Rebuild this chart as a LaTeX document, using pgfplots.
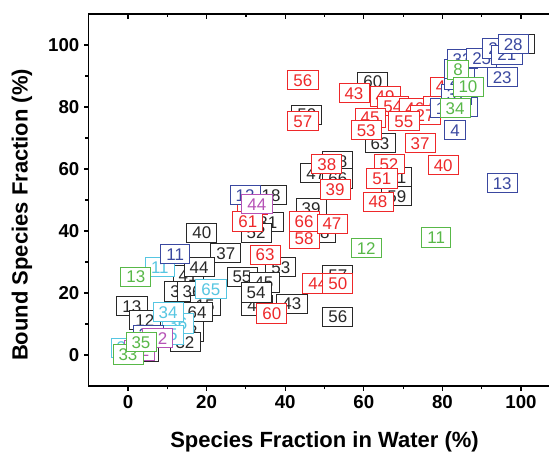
\documentclass[border=0pt]{standalone}
\usepackage{fontspec}
\setmainfont{Liberation Sans}
\usepackage{pgfplots}
\pgfplotsset{compat=1.18}

\definecolor{cblack}{RGB}{40,40,40}
\definecolor{cred}{RGB}{238,40,42}
\definecolor{cblue}{RGB}{58,72,160}
\definecolor{cgreen}{RGB}{88,184,72}
\definecolor{ccyan}{RGB}{86,198,226}
\definecolor{cmag}{RGB}{182,82,182}

\pgfplotsset{
  lbl/.style={draw=none, mark=none, nodes near coords,
    point meta=explicit symbolic,
    nodes near coords style={anchor=center, draw=#1, text=#1, fill=white,
      line width=0.6pt, inner xsep=4.2pt, inner ysep=2.8pt,
      text height=9.1pt, text depth=0pt,
      font=\fontsize{12.7}{12.7}\selectfont}},
  frame/.style={scale only axis, width=353.7pt, height=279pt,
    xmin=-10, xmax=110, ymin=-10, ymax=110,
    xtick={0,20,...,100}, ytick={0,20,...,100},
    minor x tick num=1, minor y tick num=1,
    major tick length=3.5pt, minor tick length=2.5pt,
    axis line style={line width=1pt}, every tick/.style={line width=0.9pt, black}},
}

\begin{document}
\begin{tikzpicture}
\begin{axis}[frame, name=ax,
  tick pos=left, tick align=outside,
  /pgf/number format/assume math mode=true,
  ticklabel style={font=\bfseries\fontsize{14}{14}\selectfont},
  xlabel={\bfseries Species Fraction in Water (\%)},
  ylabel={\bfseries Bound Species Fraction (\%)},
  label style={font=\fontsize{16.5}{16.5}\selectfont},
  xlabel style={at={(axis description cs:0.5,-0.1505)}, anchor=center},
  ylabel style={at={(axis description cs:-0.1414,0.46)}, anchor=center},
]
% black
\addplot[lbl=cblack] coordinates {
 (62.3,88.1)[60] (45.5,77.5)[50] (64.1,68.4)[63] (47.8,58.7)[47]
 (53.4,62.6)[48] (53.4,57.0)[66] (46.6,47.4)[39] (48.9,39.4)[58]
 (68.4,57.4)[51] (68.4,51.3)[59] (36.4,51.6)[18] (35.6,42.9)[31]
 (32.6,39.4)[52] (18.8,39.4)[40] (24.9,32.9)[37] (15.3,25.8)[41]
 (18.1,28.4)[44] (38.9,28.4)[53] (29.0,25.2)[55] (34.6,23.5)[45]
 (32.8,16.1)[49] (32.6,20.3)[54] (41.7,16.5)[43] (53.4,25.8)[57]
 (53.4,12.3)[56] (13.2,20.6)[33] (16.3,20.6)[36] (19.6,16.1)[15]
 (17.6,13.9)[64] (1.0,15.8)[13] (4.3,11.3)[12] (15.3,7.7)[23]
 (14.5,4.2)[32] (5.1,1.0)[2] (99.5,100.3)[27]
};
% red
\addplot[lbl=cred] coordinates {
 (44.5,88.7)[56] (44.5,75.5)[57] (57.5,84.5)[43] (65.4,83.5)[49]
 (67.4,80.3)[54] (61.6,76.5)[45] (73.0,79.7)[46] (78.9,80.3)[62]
 (75.6,77.4)[27] (80.7,86.5)[41] (70.2,75.5)[55] (60.6,72.6)[53]
 (74.3,68.4)[37] (80.2,61.3)[40] (66.4,61.6)[52] (64.6,57.0)[51]
 (63.6,49.4)[48] (50.6,61.6)[38] (52.7,53.5)[39] (44.8,37.7)[58]
 (44.8,43.2)[66] (51.9,42.3)[47] (31.6,48.4)[64] (30.5,43.2)[61]
 (34.9,32.3)[63] (48.3,23.2)[44] (53.4,23.2)[50] (36.6,13.5)[60]
};
% cyan
\addplot[lbl=ccyan] coordinates {
 (8.1,28.4)[11] (21.1,21.3)[65] (12.7,10.3)[36] (10.2,6.5)[25]
 (10.2,13.9)[34] (-0.5,2.3)[31]
};
% blue
\addplot[lbl=cblue] coordinates {
 (12.0,32.6)[11] (29.8,51.6)[12] (95.2,55.5)[13] (5.1,6.5)[21]
 (83.2,72.6)[4] (80.7,79.7)[19] (85.0,80.0)[20] (83.5,84.0)[31]
 (84.2,89.0)[26] (84.2,92.3)[30] (85.0,95.5)[33] (90.0,95.8)[25]
 (94.1,99.0)[22] (96.4,96.8)[21] (95.2,89.7)[23] (98.0,100.3)[28]
};
% magenta
\addplot[lbl=cmag] coordinates {
 (32.8,48.7)[44] (7.6,5.5)[22] (3.0,1.5)[32]
};
% green
\addplot[lbl=cgreen] coordinates {
 (84.0,92.0)[8] (86.5,86.5)[10] (83.2,79.7)[34] (78.4,38.0)[11]
 (60.6,34.5)[12] (2.0,25.2)[13] (0.0,0.3)[33] (3.3,4.2)[35]
};
\end{axis}
\begin{axis}[frame, tick pos=right, tick align=inside,
  xticklabels={}, yticklabels={}]
\end{axis}
\pgfresetboundingbox
\useasboundingbox ([shift={(-66.5pt,-50.25pt)}]ax.south west)
  rectangle ([shift={(-8.5pt,10.5pt)}]ax.north east);
\end{tikzpicture}
\end{document}
